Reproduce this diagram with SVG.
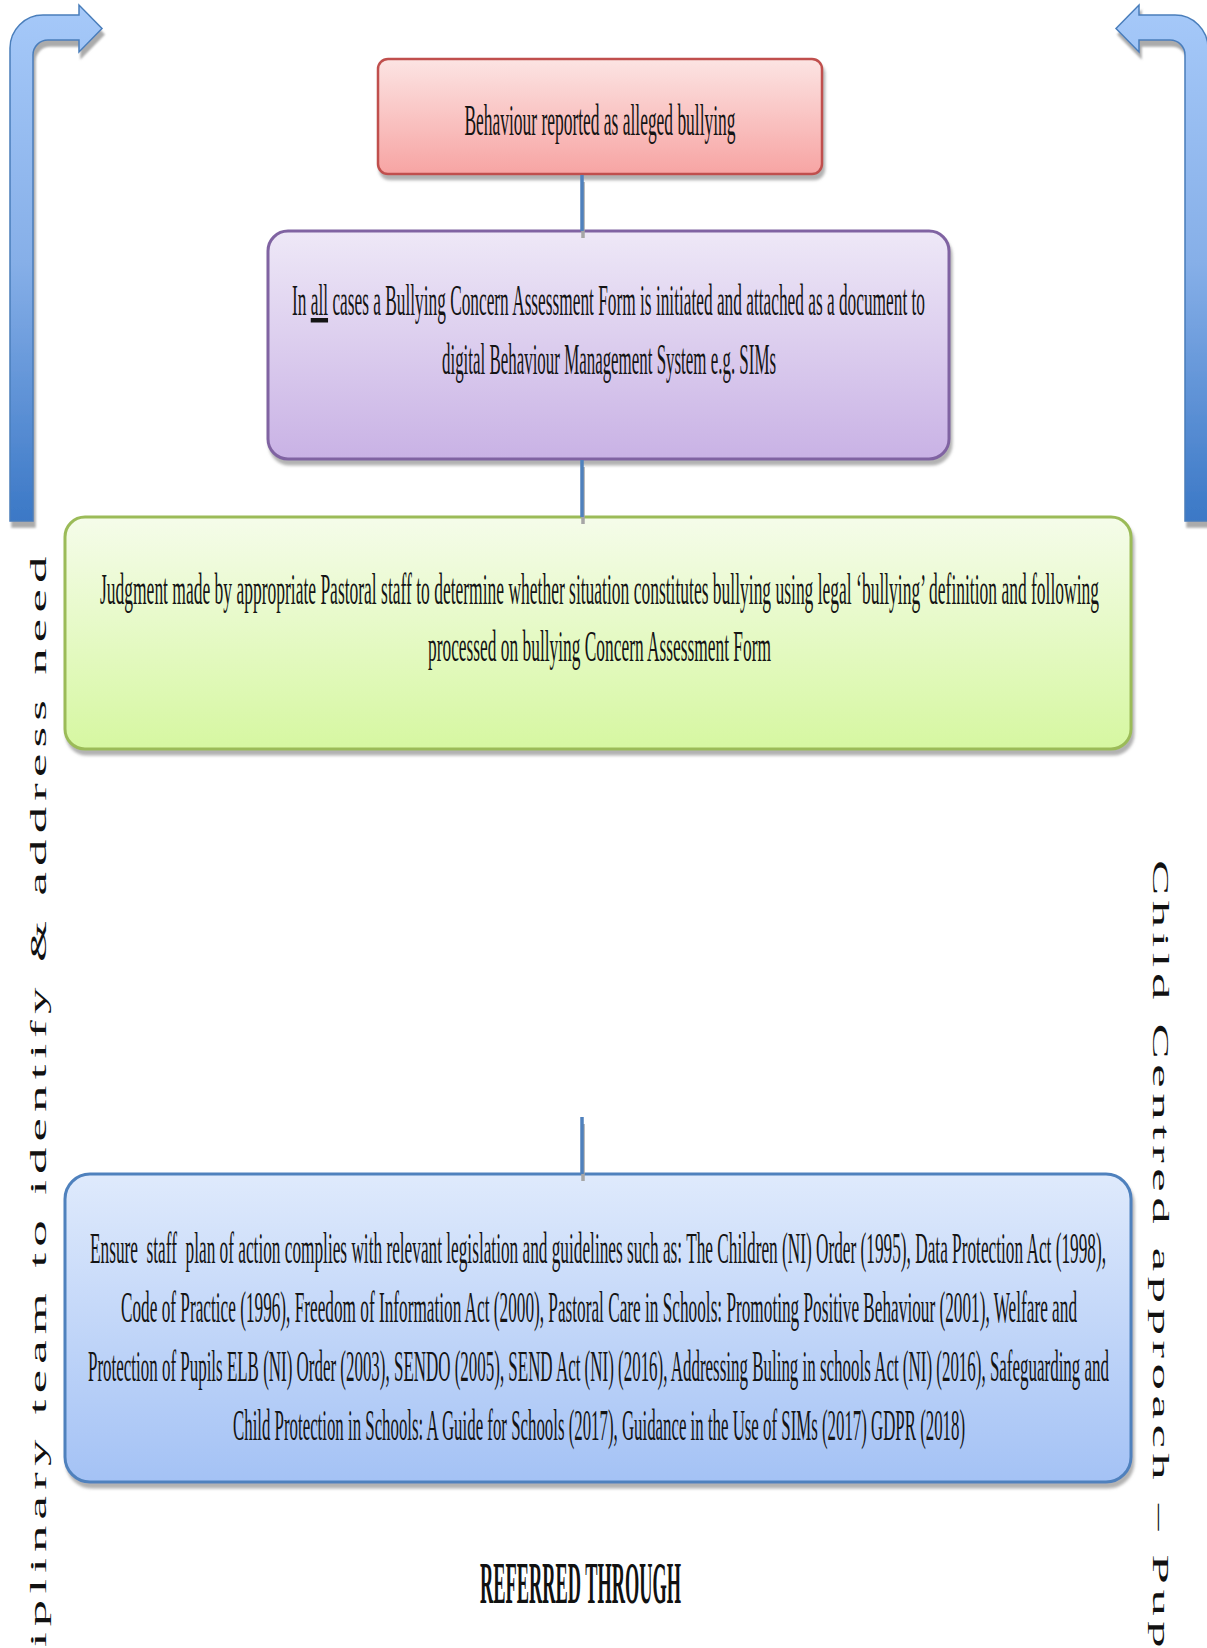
<svg xmlns="http://www.w3.org/2000/svg" width="1207" height="1648" viewBox="0 0 1207 1648">
  <style>
    .t { font-family: "Liberation Serif", "Times New Roman", serif; font-size: 45px; fill: #141414; text-anchor: middle; }
    .side { font-family: "Liberation Serif", "Times New Roman", serif; font-size: 24px; fill: #111; }
    .ref { font-family: "Liberation Serif", "Times New Roman", serif; font-size: 60px; font-weight: bold; fill: #111; text-anchor: middle; }
    .arrow { fill: url(#gArrow); stroke: #4a7ebb; stroke-width: 1.5; filter: url(#shArrow); }
    .conn { stroke: #4f81bd; stroke-width: 3.5; fill: none; }
    .connsh { stroke: #a6a6a6; stroke-width: 3.5; fill: none; }
  </style>
  <defs>
    <linearGradient id="gArrow" gradientUnits="userSpaceOnUse" x1="0" y1="5" x2="0" y2="521">
      <stop offset="0" stop-color="#a6c9f9"/>
      <stop offset="0.5" stop-color="#86afe8"/>
      <stop offset="1" stop-color="#3b78c6"/>
    </linearGradient>
    <linearGradient id="gRed" x1="0" y1="0" x2="0" y2="1">
      <stop offset="0" stop-color="#fce4e3"/>
      <stop offset="1" stop-color="#f7a4a3"/>
    </linearGradient>
    <linearGradient id="gPurple" x1="0" y1="0" x2="0" y2="1">
      <stop offset="0" stop-color="#eee8f7"/>
      <stop offset="1" stop-color="#c9b2e5"/>
    </linearGradient>
    <linearGradient id="gGreen" x1="0" y1="0" x2="0" y2="1">
      <stop offset="0" stop-color="#f5fcea"/>
      <stop offset="1" stop-color="#d6f7a1"/>
    </linearGradient>
    <linearGradient id="gBlue" x1="0" y1="0" x2="0" y2="1">
      <stop offset="0" stop-color="#dfeafc"/>
      <stop offset="1" stop-color="#a4c2f5"/>
    </linearGradient>
    <filter id="shBox" x="-5%" y="-10%" width="110%" height="125%">
      <feDropShadow dx="2" dy="5" stdDeviation="1.5" flood-color="#7f7f7f" flood-opacity="0.6"/>
    </filter>
    <filter id="shArrow" x="-20%" y="-10%" width="140%" height="120%">
      <feDropShadow dx="2" dy="6" stdDeviation="1" flood-color="#7f7f7f" flood-opacity="0.65"/>
    </filter>
  </defs>

  <g id="arrow-left">
    <path class="arrow" d="M10,521 L10,48 A33,33 0 0 1 43,15 L79,15 L79,5 L102,28.5 L79,52 L79,40 L48,40 A15,15 0 0 0 33,55 L33,521 Z"/>
  </g>
  <g id="arrow-right">
    <path class="arrow" d="M1208,521 L1208,48 A33,33 0 0 0 1175,15 L1139,15 L1139,5 L1116,28.5 L1139,52 L1139,40 L1170,40 A15,15 0 0 1 1185,55 L1185,521 Z"/>
  </g>

  <g id="label-left">
    <text class="side" transform="translate(46,1647) rotate(-90) scale(2.2,1)" letter-spacing="2.8">iplinary team to identify &amp; address need</text>
  </g>
  <g id="label-right">
    <text class="side" transform="translate(1153,860) rotate(90) scale(2.2,1)" letter-spacing="2.5">Child Centred approach – Pup</text>
  </g>

  <g id="node-reported">
    <rect x="378" y="59" width="444" height="115" rx="10" fill="url(#gRed)" stroke="#c0504d" stroke-width="2.5" filter="url(#shBox)"/>
    <text class="t" x="600" y="135" textLength="271" lengthAdjust="spacingAndGlyphs">Behaviour reported as alleged bullying</text>
  </g>

  <g id="node-form">
    <rect x="268" y="231" width="681" height="228" rx="20" fill="url(#gPurple)" stroke="#8064a2" stroke-width="3" filter="url(#shBox)"/>
    <text class="t" x="608.5" y="315" textLength="633" lengthAdjust="spacingAndGlyphs">In <tspan text-decoration="underline">all</tspan> cases a Bullying Concern Assessment Form is initiated and attached as a document to</text>
    <text class="t" x="609" y="374" textLength="334" lengthAdjust="spacingAndGlyphs">digital Behaviour Management System e.g. SIMs</text>
  </g>

  <g id="node-judgment">
    <rect x="65" y="517" width="1066" height="232" rx="20" fill="url(#gGreen)" stroke="#9bbb59" stroke-width="3" filter="url(#shBox)"/>
    <text class="t" x="599.5" y="604" textLength="999" lengthAdjust="spacingAndGlyphs">Judgment made by appropriate Pastoral staff to determine whether situation constitutes bullying using legal ‘bullying’ definition and following</text>
    <text class="t" x="599.5" y="661" textLength="343" lengthAdjust="spacingAndGlyphs">processed on bullying Concern Assessment Form</text>
  </g>

  <g id="node-legislation">
    <rect x="65" y="1174" width="1066" height="308" rx="25" fill="url(#gBlue)" stroke="#4f81bd" stroke-width="3" filter="url(#shBox)"/>
    <text class="t" x="598" y="1263" textLength="1016" lengthAdjust="spacingAndGlyphs" style="white-space:pre">Ensure  staff  plan of action complies with relevant legislation and guidelines such as: The Children (NI) Order (1995), Data Protection Act (1998),</text>
    <text class="t" x="599" y="1322" textLength="956" lengthAdjust="spacingAndGlyphs">Code of Practice (1996), Freedom of Information Act (2000), Pastoral Care in Schools: Promoting Positive Behaviour (2001), Welfare and</text>
    <text class="t" x="598.5" y="1381" textLength="1021" lengthAdjust="spacingAndGlyphs">Protection of Pupils ELB (NI) Order (2003), SENDO (2005), SEND Act (NI) (2016), Addressing Buling in schools Act (NI) (2016), Safeguarding and</text>
    <text class="t" x="599" y="1440" textLength="732" lengthAdjust="spacingAndGlyphs">Child Protection in Schools: A Guide for Schools (2017), Guidance in the Use of SIMs (2017) GDPR (2018)</text>
  </g>

  <g id="label-referred">
    <text class="ref" x="580.5" y="1603" textLength="201" lengthAdjust="spacingAndGlyphs">REFERRED THROUGH</text>
  </g>

  <g id="connectors">
    <line class="connsh" x1="583" y1="182" x2="583" y2="238"/>
    <line class="conn" x1="582" y1="175" x2="582" y2="231"/>
    <line class="connsh" x1="583" y1="467" x2="583" y2="524"/>
    <line class="conn" x1="582" y1="460" x2="582" y2="517"/>
    <line class="connsh" x1="583" y1="1124" x2="583" y2="1181"/>
    <line class="conn" x1="582" y1="1117" x2="582" y2="1174"/>
  </g>
</svg>
